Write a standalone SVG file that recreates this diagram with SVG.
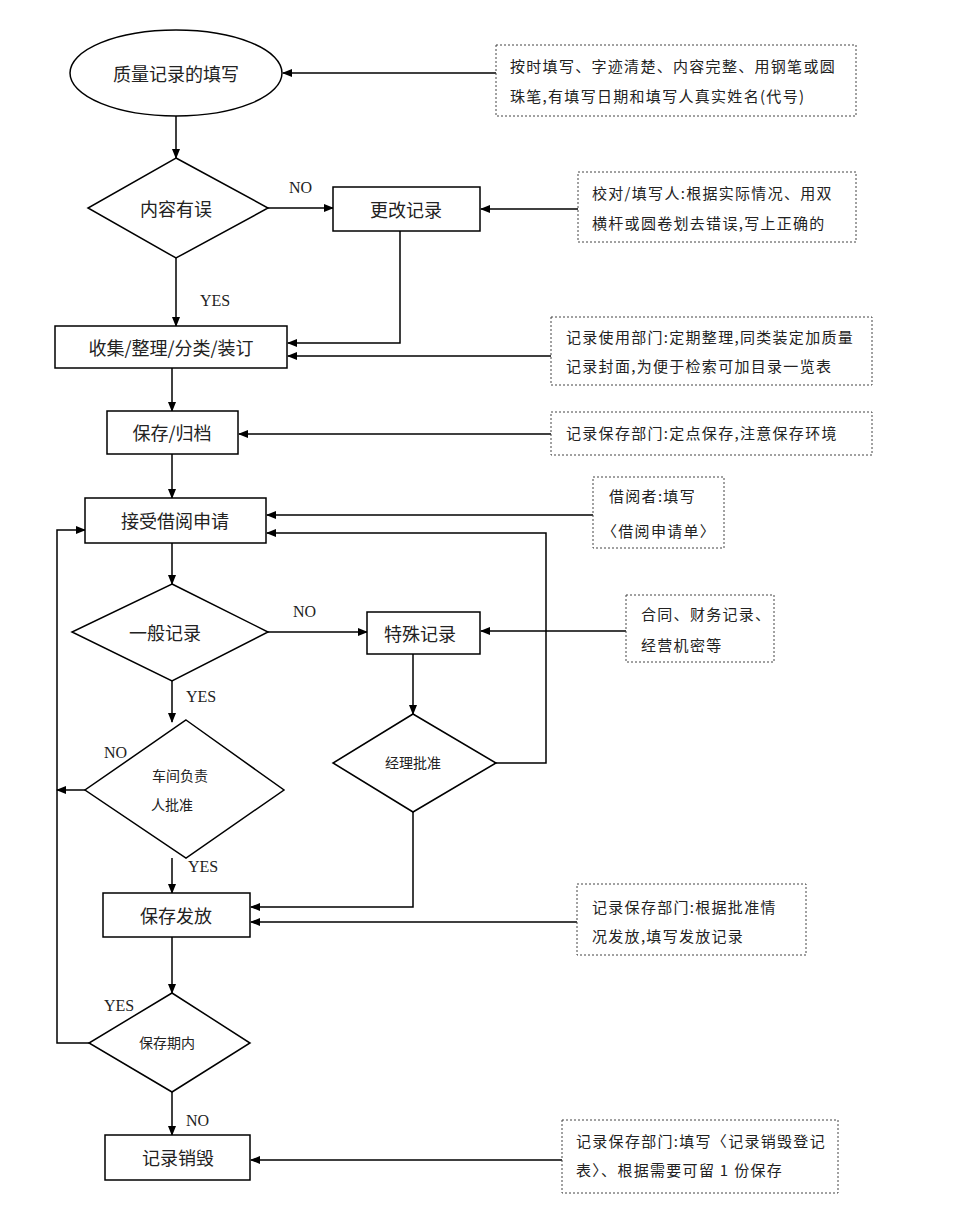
<svg xmlns="http://www.w3.org/2000/svg" width="957" height="1229" viewBox="0 0 957 1229">
<defs>
<marker id="ah" markerWidth="10" markerHeight="8" refX="9" refY="4" orient="auto" markerUnits="userSpaceOnUse"><path d="M0,0 L10,4 L0,8 Z" fill="#000"/></marker>
<style>
.n{fill:#fff;stroke:#000;stroke-width:1.5}
.note{fill:#fff;stroke:#444;stroke-width:1;stroke-dasharray:2,2}
.t{font-family:"Noto Sans CJK SC","Noto Sans",sans-serif;font-size:18px;fill:#222;text-anchor:middle;dominant-baseline:central}
.s{font-family:"Noto Sans CJK SC","Noto Sans",sans-serif;font-size:14px;fill:#222;text-anchor:middle;dominant-baseline:central}
.nt{font-family:"Noto Sans CJK SC","Noto Sans",sans-serif;font-size:15px;fill:#222;letter-spacing:1.3px}
.l{font-family:"Liberation Serif",serif;font-size:16px;fill:#222}
.c{fill:none;stroke:#000;stroke-width:1.5;marker-end:url(#ah)}
.p{fill:none;stroke:#000;stroke-width:1.5}
</style>
</defs>
<rect width="957" height="1229" fill="#fff"/>
<g id="connectors">
<line class="c" x1="496" y1="73" x2="283" y2="73"/>
<line class="c" x1="176" y1="116" x2="176" y2="158"/>
<line class="c" x1="268" y1="208" x2="333" y2="208"/>
<line class="c" x1="578" y1="209" x2="481" y2="209"/>
<line class="c" x1="176" y1="258" x2="176" y2="326"/>
<polyline class="c" points="400,231 400,343 288,343"/>
<line class="c" x1="551" y1="356" x2="288" y2="356"/>
<line class="c" x1="172" y1="368" x2="172" y2="411"/>
<line class="c" x1="551" y1="434" x2="239" y2="434"/>
<line class="c" x1="172" y1="454" x2="172" y2="498"/>
<line class="c" x1="593" y1="515" x2="267" y2="515"/>
<polyline class="c" points="496,763 546,763 546,533 267,533"/>
<line class="c" x1="172" y1="543" x2="172" y2="584"/>
<line class="c" x1="268" y1="632" x2="367" y2="632"/>
<line class="c" x1="626" y1="631" x2="481" y2="631"/>
<line class="c" x1="413" y1="654" x2="413" y2="714"/>
<line class="c" x1="172" y1="681" x2="172" y2="722"/>
<line class="c" x1="85" y1="790" x2="57" y2="790"/>
<polyline class="c" points="89,1043 57,1043 57,530 85,530"/>
<line class="c" x1="172" y1="858" x2="172" y2="893"/>
<polyline class="c" points="413,812 413,907 251,907"/>
<line class="c" x1="577" y1="922" x2="251" y2="922"/>
<line class="c" x1="172" y1="937" x2="172" y2="993"/>
<line class="c" x1="172" y1="1092" x2="172" y2="1135"/>
<line class="c" x1="562" y1="1160" x2="251" y2="1160"/>
<text class="l" x="289" y="193">NO</text>
<text class="l" x="200" y="306">YES</text>
<text class="l" x="293" y="617">NO</text>
<text class="l" x="186" y="702">YES</text>
<text class="l" x="104" y="758">NO</text>
<text class="l" x="188" y="872">YES</text>
<text class="l" x="104" y="1011">YES</text>
<text class="l" x="186" y="1126">NO</text>
</g>
<g id="n1"><ellipse class="n" cx="176" cy="73" rx="106" ry="43"/><text class="t" x="176" y="73">质量记录的填写</text></g>
<g id="d1"><polygon class="n" points="176,158 268,208 176,258 88,208"/><text class="t" x="176" y="208">内容有误</text></g>
<g id="b1"><rect class="n" x="333" y="187" width="147" height="44"/><text class="t" x="406" y="209">更改记录</text></g>
<g id="b2"><rect class="n" x="55" y="326" width="232" height="42"/><text class="t" x="171" y="347">收集/整理/分类/装订</text></g>
<g id="b3"><rect class="n" x="107" y="411" width="131" height="43"/><text class="t" x="172" y="432">保存/归档</text></g>
<g id="b4"><rect class="n" x="85" y="498" width="181" height="45"/><text class="t" x="175" y="520">接受借阅申请</text></g>
<g id="d2"><polygon class="n" points="172,584 268,632 172,681 72,632"/><text class="t" x="165" y="632">一般记录</text></g>
<g id="b5"><rect class="n" x="367" y="612" width="113" height="42"/><text class="t" x="420" y="633">特殊记录</text></g>
<g id="d3"><polygon class="n" points="413,714 496,763 413,812 333,763"/><text class="s" x="413" y="762">经理批准</text></g>
<g id="d4"><polygon class="n" points="186,720 284,790 186,858 85,790"/><text class="s" x="180" y="775">车间负责</text><text class="s" x="172" y="804">人批准</text></g>
<g id="b6"><rect class="n" x="103" y="893" width="147" height="44"/><text class="t" x="176" y="915">保存发放</text></g>
<g id="d5"><polygon class="n" points="172,993 250,1043 172,1092 89,1043"/><text class="s" x="167" y="1042">保存期内</text></g>
<g id="b7"><rect class="n" x="105" y="1135" width="145" height="45"/><text class="t" x="178" y="1157">记录销毁</text></g>
<g id="note1"><rect class="note" x="496" y="45" width="360" height="71"/><text class="nt" x="510" y="72">按时填写、字迹清楚、内容完整、用钢笔或圆</text><text class="nt" x="510" y="102">珠笔,有填写日期和填写人真实姓名(代号)</text></g>
<g id="note2"><rect class="note" x="578" y="172" width="278" height="70"/><text class="nt" x="592" y="199">校对/填写人:根据实际情况、用双</text><text class="nt" x="592" y="229">横杆或圆卷划去错误,写上正确的</text></g>
<g id="note3"><rect class="note" x="551" y="317" width="321" height="68"/><text class="nt" x="566" y="343">记录使用部门:定期整理,同类装定加质量</text><text class="nt" x="566" y="372">记录封面,为便于检索可加目录一览表</text></g>
<g id="note4"><rect class="note" x="551" y="412" width="321" height="43"/><text class="nt" x="566" y="439">记录保存部门:定点保存,注意保存环境</text></g>
<g id="note5"><rect class="note" x="593" y="477" width="131" height="71"/><text class="nt" x="609" y="502">借阅者:填写</text><text class="nt" x="602" y="537">〈借阅申请单〉</text></g>
<g id="note6"><rect class="note" x="626" y="595" width="148" height="67"/><text class="nt" x="641" y="620">合同、财务记录、</text><text class="nt" x="641" y="651">经营机密等</text></g>
<g id="note7"><rect class="note" x="577" y="884" width="229" height="71"/><text class="nt" x="592" y="913">记录保存部门:根据批准情</text><text class="nt" x="592" y="942">况发放,填写发放记录</text></g>
<g id="note8"><rect class="note" x="562" y="1120" width="276" height="73"/><text class="nt" x="576" y="1147">记录保存部门:填写〈记录销毁登记</text><text class="nt" x="576" y="1176">表〉、根据需要可留 1 份保存</text></g>
</svg>
